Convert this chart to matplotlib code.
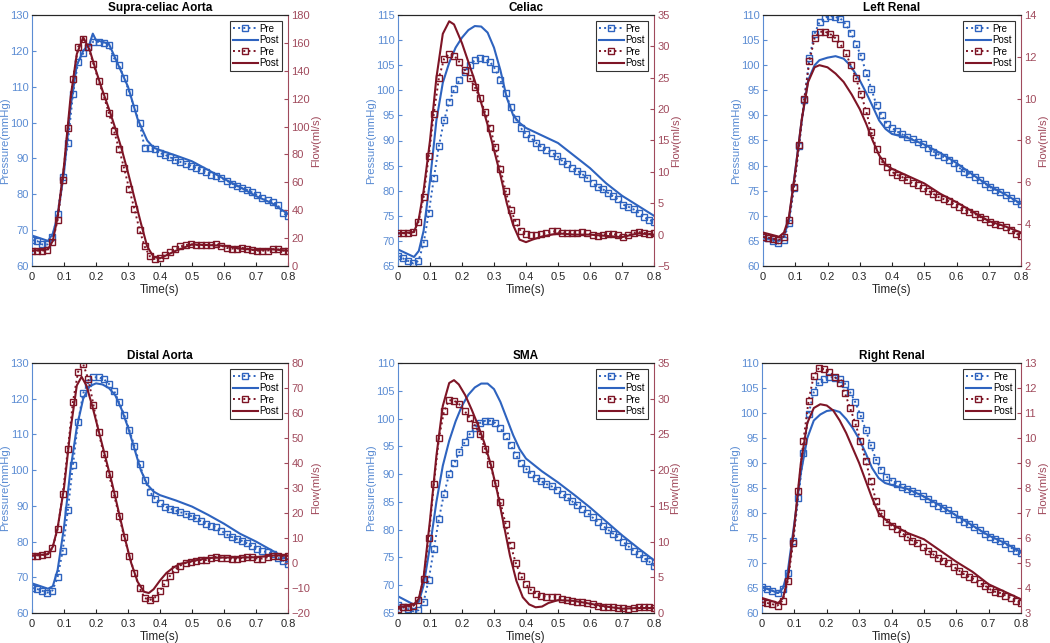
import numpy as np
import matplotlib
matplotlib.use("Agg")
import matplotlib.pyplot as plt

plt.rcParams['font.family'] = ['Liberation Sans', 'DejaVu Sans']

# ---------------- data ----------------
titles = ["Supra-celiac Aorta", "Celiac", "Left Renal", "Distal Aorta", "SMA", "Right Renal"]
t_pre = np.linspace(0, 0.8, 51)

# Supra-celiac Aorta
sc_p_pre = [67.2, 67, 66, 66, 68, 74.6, 84.9, 94.4, 107.9, 116.9, 119.3, 121, 122.6, 122.5, 122.3, 121.5, 118,
            116, 112.5, 108.5, 104, 100, 93, 93, 92.5, 91.5, 91, 90.3, 89.6, 89, 88.5, 88, 87.4, 86.8, 86.2, 85.5,
            85, 84.5, 83.8, 83, 82.3, 81.7, 81.2, 80.5, 79.8, 79.1, 78.4, 77.8, 77, 74.8, 74]
sc_t_post_p = [0, 0.05, 0.065, 0.08, 0.1, 0.12, 0.14, 0.16, 0.18, 0.19, 0.2, 0.24, 0.26, 0.3, 0.33, 0.36, 0.38,
               0.4, 0.45, 0.5, 0.55, 0.6, 0.65, 0.7, 0.75, 0.8]
sc_p_post = [68.5, 67, 69, 74, 86, 104, 116, 120, 122, 124.8, 123, 122, 118, 110, 101, 95, 93, 92.3, 90.8, 89.2,
             86.8, 84.3, 82, 79.5, 77.5, 74.5]
sc_q_pre = [11, 11, 11, 11.5, 17, 33, 62, 99, 134, 157, 163, 157, 145, 133, 122, 110, 97, 84, 70, 55, 41, 26,
            14, 7, 5, 6, 8, 10, 12, 14, 15, 15.5, 15, 15, 15, 15, 15.5, 14.5, 13, 12.5, 12.5, 13, 12.5, 11.5,
            11, 11, 11, 12, 12, 11, 11]
sc_t_post_q = [0, 0.05, 0.065, 0.08, 0.1, 0.12, 0.14, 0.16, 0.18, 0.2, 0.22, 0.24, 0.26, 0.28, 0.3, 0.32, 0.34,
               0.36, 0.38, 0.4, 0.45, 0.5, 0.55, 0.6, 0.65, 0.7, 0.75, 0.8]
sc_q_post = [11, 12, 18, 35, 72, 120, 152, 164, 155, 140, 126, 113, 99, 84, 67, 49, 31, 14, 6.5, 5.5, 11, 15.5,
             15, 14.5, 12.5, 11.5, 12, 11]

# Celiac
ce_p_pre = [67, 66.5, 66, 65.5, 66, 69.5, 75.5, 82.5, 89, 94, 97.7, 100.3, 102, 103.7, 105, 106, 106.5, 106.2,
            105.6, 104.2, 102, 99.5, 96.7, 94.3, 92.5, 91.2, 90.5, 89.5, 88.7, 88.2, 87.6, 87, 86, 85.3, 84.5,
            84, 83.3, 82.5, 81.5, 80.8, 80.3, 79.6, 78.9, 78.3, 77.2, 76.8, 76.3, 75.6, 74.8, 74.2, 73.8]
ce_t_post_p = [0, 0.05, 0.065, 0.08, 0.1, 0.12, 0.14, 0.16, 0.18, 0.2, 0.22, 0.24, 0.26, 0.28, 0.3, 0.32, 0.34,
               0.36, 0.38, 0.4, 0.45, 0.5, 0.55, 0.6, 0.65, 0.7, 0.75, 0.8]
ce_p_post = [68.3, 66.8, 68, 72, 82, 94, 101.5, 105.5, 108.5, 110.5, 112, 112.8, 112.7, 111.5, 108.5, 104, 98.5,
             95, 93.5, 92.5, 91, 89.5, 87, 84.5, 81.5, 79, 77, 75]
ce_q_pre = [0.2, 0.2, 0.2, 0.4, 2, 6, 12.5, 19.3, 25, 28, 28.8, 28.5, 27.5, 26.3, 25, 23.5, 21.8, 19.5, 17, 14,
            10.5, 7, 4, 2, 0.5, 0.1, 0, 0, 0.1, 0.3, 0.5, 0.5, 0.3, 0.2, 0.2, 0.3, 0.4, 0.2, 0, -0.2, 0, 0.1,
            0.1, -0.1, -0.3, -0.1, 0.3, 0.4, 0.3, 0.1, 0.2]
ce_t_post_q = [0, 0.05, 0.065, 0.08, 0.1, 0.12, 0.14, 0.16, 0.175, 0.2, 0.22, 0.24, 0.26, 0.28, 0.3, 0.32, 0.34,
               0.36, 0.38, 0.4, 0.42, 0.45, 0.5, 0.55, 0.6, 0.65, 0.7, 0.75, 0.8]
ce_q_post = [0.2, 0.4, 2.5, 7, 15, 25, 32, 34, 33.5, 30.5, 27.5, 24.5, 21, 17.5, 13.5, 9.5, 5, 1.5, -0.8, -1.2,
             -0.8, -0.3, 0.2, 0, 0, -0.2, -0.4, 0.2, 0]

# Left Renal
lr_p_pre = [65.8, 65.5, 65, 64.5, 65.2, 68.5, 75.5, 84, 93, 101.5, 106.3, 108.7, 109.5, 109.8, 109.6, 109.3,
            108.2, 106.5, 104.3, 101.8, 98.5, 95.3, 92, 90, 88.3, 87.5, 86.8, 86.2, 85.7, 85.2, 84.8, 84.3, 83.6,
            82.8, 82.2, 81.7, 81.2, 80.5, 79.6, 78.8, 78.3, 77.8, 77.2, 76.4, 75.7, 75.2, 74.8, 74.2, 73.6, 72.9,
            72.3]
lr_t_post_p = [0, 0.05, 0.065, 0.08, 0.1, 0.12, 0.14, 0.16, 0.175, 0.2, 0.225, 0.25, 0.27, 0.3, 0.32, 0.34,
               0.36, 0.38, 0.4, 0.45, 0.5, 0.55, 0.6, 0.65, 0.7, 0.75, 0.8]
lr_p_post = [65.6, 65, 66, 69, 79, 89, 97, 100, 101, 101.5, 101.8, 101.3, 100, 97, 94.5, 91.8, 89, 87.3, 86.3,
             85.5, 84.2, 82.5, 80.5, 78.2, 76, 74.3, 72.4]
lr_q_pre = [3.39, 3.35, 3.3, 3.25, 3.4, 4.2, 5.8, 7.8, 10, 11.8, 12.9, 13.2, 13.2, 13.1, 12.9, 12.6, 12.2, 11.6,
            11, 10.2, 9.4, 8.4, 7.6, 7.0, 6.75, 6.5, 6.35, 6.25, 6.1, 5.95, 5.85, 5.75, 5.6, 5.45, 5.3, 5.2, 5.1,
            4.95, 4.8, 4.7, 4.6, 4.5, 4.35, 4.25, 4.1, 4.0, 3.95, 3.85, 3.7, 3.55, 3.45]
lr_t_post_q = [0, 0.05, 0.065, 0.08, 0.1, 0.12, 0.14, 0.16, 0.175, 0.2, 0.225, 0.25, 0.275, 0.3, 0.32, 0.34,
               0.36, 0.38, 0.4, 0.45, 0.5, 0.55, 0.6, 0.65, 0.7, 0.75, 0.8]
lr_q_post = [3.6, 3.4, 3.6, 4.3, 6.5, 9, 10.8, 11.5, 11.6, 11.5, 11.2, 10.8, 10.2, 9.5, 8.8, 8.0, 7.3, 6.85,
             6.65, 6.3, 5.95, 5.45, 5.05, 4.6, 4.15, 3.9, 3.6]

# Distal Aorta
da_p_pre = [67, 66.7, 66.2, 65.7, 66.3, 70, 77.5, 88.8, 101.5, 113.5, 121.5, 124.5, 126, 126, 125.5, 124.2,
            122.3, 119, 115.5, 111.3, 106.8, 101.8, 97.3, 94, 92, 90.8, 89.8, 89.2, 88.7, 88.2, 87.8, 87.2, 86.5,
            85.7, 85, 84.5, 84, 83, 82, 81.3, 80.7, 80.2, 79.5, 78.7, 78, 77.3, 77, 76.5, 75.5, 74.7, 73.8]
da_t_post_p = [0, 0.05, 0.065, 0.08, 0.1, 0.12, 0.14, 0.16, 0.18, 0.2, 0.22, 0.24, 0.26, 0.28, 0.3, 0.32, 0.34,
               0.36, 0.38, 0.4, 0.45, 0.5, 0.55, 0.6, 0.65, 0.7, 0.75, 0.8]
da_p_post = [68.3, 66.8, 67.5, 72, 84, 100, 112, 120, 123.5, 124.3, 124, 123, 121, 117, 112, 106, 100, 96, 94,
             93, 91.5, 89.8, 87.5, 85, 82.2, 80, 77.5, 75]
da_q_pre = [2.9, 3, 3.2, 3.5, 6, 13.5, 27.5, 45.5, 64.5, 76.5, 79.5, 73.5, 63.3, 52.5, 43.5, 35.5, 27.5, 19,
            10.5, 3, -4, -10, -14, -14.8, -13.8, -11, -8, -5, -2.5, -1, 0, 0.5, 1, 1.2, 1.2, 2, 2.5, 2.2, 2,
            1.8, 1.8, 2, 2.3, 2.3, 1.8, 1.8, 2.3, 3, 2.8, 2.5, 2.8]
da_t_post_q = [0, 0.05, 0.065, 0.08, 0.1, 0.12, 0.14, 0.155, 0.17, 0.19, 0.21, 0.23, 0.25, 0.27, 0.29, 0.31,
               0.33, 0.35, 0.365, 0.38, 0.4, 0.42, 0.44, 0.46, 0.5, 0.55, 0.6, 0.65, 0.7, 0.75, 0.8]
da_q_post = [3, 3.5, 6.5, 14, 30, 53, 71, 74.5, 71, 62, 52, 42, 32, 21, 10, 0, -7.5, -11.5, -12, -10.5, -7, -4,
             -2, -0.5, 0.8, 2, 2.2, 2.2, 2.3, 3, 3]

# SMA
sm_p_pre = [66.5, 66, 65.7, 65.3, 65.5, 67, 71, 76.5, 82, 86.5, 90, 92, 94, 95.7, 97.2, 98.3, 99.2, 99.6, 99.6,
            99.2, 98.3, 96.9, 95.2, 93.5, 92, 91, 90, 89.3, 88.7, 88.2, 87.8, 87.2, 86.5, 85.8, 85.1, 84.4, 83.7,
            83, 82.2, 81.4, 80.7, 80, 79.3, 78.6, 77.8, 77, 76.2, 75.6, 74.9, 74.3, 73.5]
sm_t_post_p = [0, 0.05, 0.065, 0.08, 0.1, 0.12, 0.14, 0.16, 0.18, 0.2, 0.22, 0.24, 0.26, 0.28, 0.3, 0.32, 0.34,
               0.36, 0.38, 0.4, 0.45, 0.5, 0.55, 0.6, 0.65, 0.7, 0.75, 0.8]
sm_p_post = [68, 66.5, 67, 70, 77, 85, 91.5, 96, 99.5, 102.3, 104.3, 105.6, 106.3, 106.3, 105.3, 103, 100, 97,
             94.5, 92.8, 90.5, 88.5, 86.3, 84, 81.5, 79, 76.7, 74.5]
sm_q_pre = [0.55, 0.8, 0.9, 1, 1.8, 4.8, 10.5, 18, 24.5, 28.3, 29.8, 29.7, 29.2, 28.3, 27.3, 26.3, 25, 23, 20.8,
            18.2, 15.5, 12.5, 9.5, 7, 5.2, 4, 3.2, 2.7, 2.4, 2.3, 2.3, 2.2, 2, 1.8, 1.7, 1.6, 1.5, 1.4, 1.2, 1.0,
            0.9, 0.85, 0.8, 0.75, 0.65, 0.6, 0.7, 0.85, 0.9, 0.8, 0.7]
sm_t_post_q = [0, 0.05, 0.065, 0.08, 0.1, 0.12, 0.14, 0.16, 0.175, 0.19, 0.21, 0.23, 0.25, 0.27, 0.29, 0.31,
               0.33, 0.35, 0.37, 0.39, 0.41, 0.43, 0.45, 0.47, 0.5, 0.55, 0.6, 0.65, 0.7, 0.75, 0.8]
sm_q_post = [0.8, 1.2, 2, 5, 13, 22, 29, 32.2, 32.6, 32, 30.5, 28.5, 26.3, 23.8, 20.8, 17, 12.5, 8, 4.5, 2.2,
             1.2, 0.8, 0.9, 1.4, 1.8, 1.7, 1.3, 0.9, 0.6, 0.7, 0.7]

# Right Renal
rr_p_pre = [65.3, 64.9, 64.5, 64, 64.9, 68, 74.5, 83, 92, 99.8, 104.2, 106.2, 106.9, 107.2, 107.1, 106.8, 105.9,
            104.2, 102.2, 99.6, 96.7, 93.6, 90.7, 88.7, 87.3, 86.5, 85.9, 85.3, 84.8, 84.4, 84, 83.4, 82.8, 82,
            81.5, 81, 80.6, 79.9, 78.9, 78.2, 77.8, 77.2, 76.6, 75.9, 75.2, 74.8, 74.4, 73.8, 73.1, 72.5, 72]
rr_t_post_p = [0, 0.05, 0.065, 0.08, 0.1, 0.12, 0.14, 0.16, 0.18, 0.2, 0.22, 0.24, 0.26, 0.28, 0.3, 0.32, 0.34,
               0.36, 0.38, 0.4, 0.45, 0.5, 0.55, 0.6, 0.65, 0.7, 0.75, 0.8]
rr_p_post = [65.2, 64, 65, 68.5, 78, 88, 95, 98.5, 99.7, 100.4, 100.6, 100.2, 98.8, 97, 94.8, 92, 89, 87, 86,
             85.6, 84.8, 83.3, 81.5, 79.5, 77.5, 75.5, 74, 72.2]
rr_q_pre = [3.43, 3.4, 3.35, 3.3, 3.5, 4.3, 5.8, 7.9, 9.9, 11.5, 12.5, 12.8, 12.75, 12.65, 12.45, 12.2, 11.8,
            11.2, 10.6, 9.9, 9.1, 8.3, 7.5, 7.0, 6.65, 6.5, 6.35, 6.2, 6.05, 5.9, 5.8, 5.65, 5.5, 5.35, 5.2, 5.1,
            5.0, 4.85, 4.7, 4.55, 4.45, 4.35, 4.2, 4.1, 3.95, 3.85, 3.8, 3.7, 3.6, 3.5, 3.4]
rr_t_post_q = [0, 0.05, 0.065, 0.08, 0.1, 0.12, 0.14, 0.16, 0.18, 0.2, 0.22, 0.24, 0.26, 0.28, 0.3, 0.32, 0.34,
               0.36, 0.38, 0.4, 0.45, 0.5, 0.55, 0.6, 0.65, 0.7, 0.75, 0.8]
rr_q_post = [3.6, 3.4, 3.6, 4.4, 6.5, 9.0, 10.6, 11.2, 11.35, 11.3, 11.1, 10.7, 10.2, 9.6, 9.0, 8.3, 7.6, 7.0,
             6.75, 6.55, 6.2, 5.95, 5.5, 5.05, 4.65, 4.15, 3.85, 3.55]

p_ylims = [(60, 130), (65, 115), (60, 110), (60, 130), (65, 110), (60, 110)]
p_ticks = [np.arange(60, 131, 10), np.arange(65, 116, 5), np.arange(60, 111, 5),
           np.arange(60, 131, 10), np.arange(65, 111, 5), np.arange(60, 111, 5)]
q_ylims = [(0, 180), (-5, 35), (2, 14), (-20, 80), (0, 35), (3, 13)]
q_ticks = [np.arange(0, 181, 20), np.arange(-5, 36, 5), np.arange(2, 15, 2),
           np.arange(-20, 81, 10), np.arange(0, 36, 5), np.arange(3, 14, 1)]
x_ticks = [0, 0.1, 0.2, 0.3, 0.4, 0.5, 0.6, 0.7, 0.8]
x_ticklabels = ["0", "0.1", "0.2", "0.3", "0.4", "0.5", "0.6", "0.7", "0.8"]

panels = [
    (sc_p_pre, sc_t_post_p, sc_p_post, sc_q_pre, sc_t_post_q, sc_q_post),
    (ce_p_pre, ce_t_post_p, ce_p_post, ce_q_pre, ce_t_post_q, ce_q_post),
    (lr_p_pre, lr_t_post_p, lr_p_post, lr_q_pre, lr_t_post_q, lr_q_post),
    (da_p_pre, da_t_post_p, da_p_post, da_q_pre, da_t_post_q, da_q_post),
    (sm_p_pre, sm_t_post_p, sm_p_post, sm_q_pre, sm_t_post_q, sm_q_post),
    (rr_p_pre, rr_t_post_p, rr_p_post, rr_q_pre, rr_t_post_q, rr_q_post),
]

# ---------------- style ----------------
BLUE = "#2E63BF"
BLUE_AX = "#5B8CD3"
RED = "#7E1526"
RED_AX = "#A04A5C"
GRAY = "#262626"

fig = plt.figure(figsize=(10.5, 6.43), dpi=100)
W, H = 1050, 643
boxes = [(32, 15, 288, 266), (398, 15, 654, 266), (763, 15, 1021, 266),
         (32, 363, 288, 613), (398, 363, 654, 613), (762, 363, 1021, 613)]

for i, (box, data) in enumerate(zip(boxes, panels)):
    x0, y0, x1, y1 = box
    ax = fig.add_axes([x0 / W, 1 - y1 / H, (x1 - x0) / W, (y1 - y0) / H])
    ax2 = ax.twinx()
    p_pre, tpp, p_post, q_pre, tpq, q_post = data

    h1, = ax.plot(t_pre, p_pre, ls=':', color=BLUE, lw=1.4, marker='s', ms=4.2,
                  mfc='none', mec=BLUE, mew=1.0, label='Pre')
    h2, = ax.plot(tpp, p_post, ls='-', color=BLUE, lw=1.5, label='Post')
    h3, = ax2.plot(t_pre, q_pre, ls=':', color=RED, lw=1.4, marker='s', ms=4.2,
                   mfc='none', mec=RED, mew=1.0, label='Pre')
    h4, = ax2.plot(tpq, q_post, ls='-', color=RED, lw=1.5, label='Post')

    ax.set_xlim(0, 0.8)
    ax.set_xticks(x_ticks)
    ax.set_xticklabels(x_ticklabels)
    ax.set_ylim(*p_ylims[i])
    ax.set_yticks(p_ticks[i])
    ax2.set_ylim(*q_ylims[i])
    ax2.set_yticks(q_ticks[i])

    ax.tick_params(axis='x', direction='in', length=3, labelsize=8, colors=GRAY, top=False, pad=4)
    ax.tick_params(axis='y', direction='in', length=3, labelsize=8, colors=BLUE_AX, pad=2.5)
    ax2.tick_params(axis='y', direction='in', length=3, labelsize=8, colors=RED_AX, pad=2.5)

    ax.spines['left'].set_color(BLUE_AX)
    ax.spines['right'].set_visible(False)
    ax2.spines['left'].set_visible(False)
    ax2.spines['right'].set_color(RED_AX)
    for a in (ax, ax2):
        a.spines['top'].set_color(GRAY)
        a.spines['bottom'].set_color(GRAY)
        for s in a.spines.values():
            s.set_linewidth(0.8)

    ax.set_xlabel("Time(s)", fontsize=8.5, color=GRAY, labelpad=2)
    ax.set_ylabel("Pressure(mmHg)", fontsize=8.2, color=BLUE_AX, labelpad=0)
    ax2.set_ylabel("Flow(ml/s)", fontsize=8.2, color=RED_AX, labelpad=0.5)
    ax.set_title(titles[i], fontsize=8.5, fontweight='bold', color='black', pad=3)

    leg = ax2.legend([h1, h2, h3, h4], ['Pre', 'Post', 'Pre', 'Post'], loc='upper right',
                     fontsize=7, frameon=True, fancybox=False, edgecolor='black',
                     borderaxespad=0.6, handlelength=2.6, handletextpad=0.2,
                     labelspacing=0.15, borderpad=0.3)
    leg.get_frame().set_linewidth(0.8)

fig.savefig("out.png", dpi=100)
